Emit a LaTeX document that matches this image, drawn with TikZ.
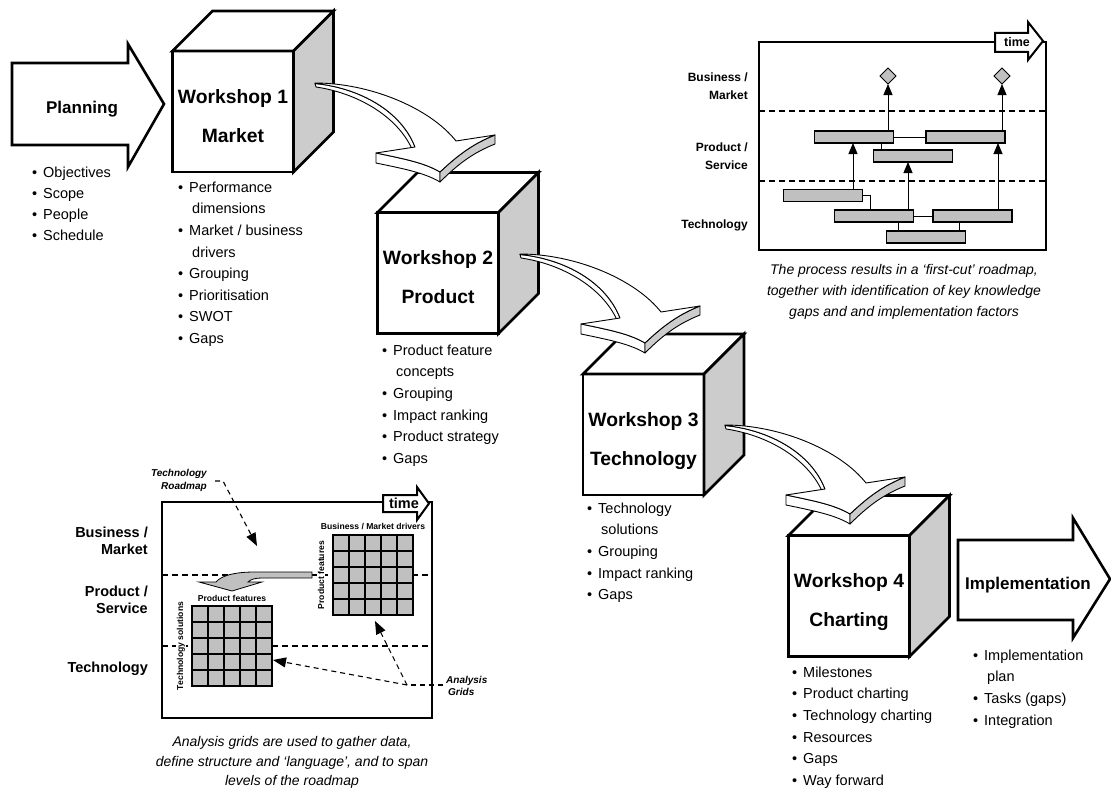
\documentclass[tikz,border=0pt]{standalone}
\usepackage{fontspec}
\setmainfont{Liberation Sans}
\usetikzlibrary{arrows.meta,calc,shapes.geometric}
\definecolor{sidegray}{RGB}{204,204,204}
\definecolor{bargray}{RGB}{192,192,192}
% bullet and hanging indent for the lists
\newcommand\bp{\makebox[11pt][l]{•}}
\newcommand\cp{\hspace*{14pt}}

\tikzset{
  % curved flat 3-D arrow leading from one workshop to the next
  ribbon/.pic={
    \draw[rib, fill=white] (0,0.5) .. controls (45,5) and (86,28) .. (100,64) -- (97,66) .. controls (82,33) and (42,10) .. (1,4) -- cycle;
    \draw[rib, fill=white] (61,70) .. controls (90,76) and (110,80) .. (125,89) -- (125,99) .. controls (110,90) and (90,86) .. (61,80) -- cycle;
    \draw[rib, fill=sidegray] (125,89) .. controls (145,70) and (160,60) .. (180,52) -- (180,61) .. controls (160,69) and (145,79) .. (125,99) -- cycle;
    \draw[rib, fill=white] (0,0) .. controls (55,0) and (115,25) .. (141,58) -- (180,52) .. controls (160,60) and (145,70) .. (125,89) .. controls (110,80) and (90,76) .. (61,70) -- (100,64) .. controls (86,28) and (45,5) .. (0,0.5) -- cycle;
  }
}

\begin{document}
\begin{tikzpicture}[x=1pt,y=-1pt,
  cubeface/.style={draw, line width=2.8pt, fill=white, inner sep=0pt, outer sep=0pt, minimum width=121pt, minimum height=121pt},
  topface/.style={draw, line width=2.8pt, fill=white},
  sideface/.style={draw, line width=2.8pt, fill=sidegray},
  rib/.style={draw, line width=0.9pt, line join=round},
  blockarrow/.style={draw, line width=2.6pt, fill=white},
  wtitle/.style={font=\fontsize{19.3}{23}\selectfont\bfseries, inner sep=0pt},
  arrowtitle/.style={font=\fontsize{17}{20}\selectfont\bfseries, inner sep=0pt},
  bullets/.style={anchor=north west, align=left, inner sep=0pt, font=\fontsize{14.5}{21.6}\selectfont},
  frame/.style={draw, line width=2.4pt},
  lane/.style={line width=1.2pt, dash pattern=on 6pt off 4pt},
  lanelab/.style={align=right, inner sep=0pt, font=\fontsize{12}{18}\selectfont\bfseries},
  biglanelab/.style={align=right, inner sep=0pt, font=\fontsize{14.5}{17.5}\selectfont\bfseries},
  bar/.style={draw, line width=1.1pt, fill=bargray, minimum width=79pt, minimum height=12pt, inner sep=0pt, outer sep=0pt},
  link/.style={line width=1pt},
  uparrow/.style={line width=1pt, -{Triangle[width=9pt,length=11pt]}},
  milestone/.style={diamond, draw, line width=0.9pt, fill=bargray, minimum width=16pt, minimum height=16pt, inner sep=0pt, outer sep=0pt},
  timearrow/.style={draw, line width=2pt, fill=white},
  caption/.style={align=center, inner sep=0pt},
  gridcell/.style={draw, line width=2pt, fill=bargray, minimum width=80pt, minimum height=80pt, inner sep=0pt, outer sep=0pt},
  gridline/.style={line width=2pt},
  gridlab/.style={inner sep=1pt, font=\fontsize{8.6}{10}\selectfont\bfseries},
  annot/.style={inner sep=0pt, font=\fontsize{10}{13}\selectfont\bfseries\itshape},
  pointer/.style={line width=1.1pt, dash pattern=on 5pt off 4pt},
  pointerarrow/.style={pointer, -{Triangle[width=10pt,length=13pt]}},
]
\useasboundingbox (0,0) rectangle (1111,792);

% ---------- first-cut roadmap (top right) ----------
\draw[frame] (759,42) rectangle (1046,250);
\draw[lane] (759,111) -- (1046,111);
\draw[lane] (759,181) -- (1046,181);
\node[lanelab, anchor=east] (rbm) at (748,86) {Business /\\Market};
\node[lanelab, anchor=east] (rps) at (748,156) {Product /\\Service};
\node[lanelab, anchor=base east] (rte) at (748,228) {Technology};

\node[bar] (A) at (854,137) {};
\node[bar] (B) at (965.5,137) {};
\node[bar] (C) at (913,156) {};
\node[bar] (D) at (823,195.5) {};
\node[bar] (E) at (874,216) {};
\node[bar] (F) at (972.5,216) {};
\node[bar] (G) at (926,237) {};
\node[milestone] (m1) at (888,76) {};
\node[milestone] (m2) at (1002,76) {};

\draw[link] (A.east) -- (B.west);
\draw[link] ([xshift=27pt]A.south) -- ([xshift=-32pt]C.north);
\draw[link] (D.east) -| ([xshift=-4pt]E.north);
\draw[link] (E.east) -- (F.west);
\draw[link] ([xshift=24pt]E.south) -- ([xshift=-28pt]G.north);
\draw[link] ([xshift=-13.5pt]F.south) -- ([xshift=33pt]G.north);
\draw[uparrow] ([xshift=30pt]D.north) -- ([xshift=-1pt]A.south);
\draw[uparrow] ([xshift=34pt]E.north) -- ([xshift=-5pt]C.south);
\draw[uparrow] ([xshift=25.5pt]F.north) -- ([xshift=32.5pt]B.south);
\draw[uparrow] ([xshift=34pt]A.north) -- (m1.south);
\draw[uparrow] ([xshift=36.5pt]B.north) -- (m2.south);

\draw[timearrow] (995,33) -- (1028,33) -- (1028,22) -- (1043,41) -- (1028,60) -- (1028,52) -- (995,52) -- cycle;
\node[inner sep=0pt, font=\fontsize{12.5}{14}\selectfont\bfseries] (rtime) at (1017,42) {time};

\node[caption, anchor=north, font=\fontsize{14}{21}\selectfont\itshape] (cap1) at (904,264.5)
  {The process results in a ‘first-cut’ roadmap,\\together with identification of key knowledge\\gaps and and implementation factors};

% ---------- analysis grids (bottom left) ----------
\draw[frame] (162,502) rectangle (432,718);
\draw[lane] (162,575) -- (432,575);
\draw[lane] (162,646) -- (432,646);
\node[biglanelab, anchor=east] (lbm) at (148,541) {Business /\\Market};
\node[biglanelab, anchor=east] (lps) at (148,600) {Product /\\Service};
\node[biglanelab, anchor=base east] (lte) at (148,672) {Technology};

\node[gridcell] (rg) at (373,575) {};
\node[gridcell] (lg) at (232,646) {};
\foreach \g in {rg,lg} {
  \foreach \i in {1,...,4} {
    \draw[gridline] ($(\g.north west)+(\i*16,0)$) -- ($(\g.south west)+(\i*16,0)$);
    \draw[gridline] ($(\g.north west)+(0,\i*16)$) -- ($(\g.north east)+(0,\i*16)$);
  }
}
\node[gridlab] (rgt) at (373,526) {Business / Market drivers};
\node[gridlab, rotate=90, fill=white] (rgl) at (321,575) {Product features};
\node[gridlab] (lgt) at (232,598) {Product features};
\node[gridlab, rotate=90, fill=white] (lgl) at (181,646) {Technology solutions};

% flat arrow carrying the product features down to the next grid
\draw[line width=0.8pt, fill=bargray] (312,572) -- (255,572) .. controls (236,572) and (222,575) .. (216,582)
  -- (199,582) -- (232,591) -- (262,582) -- (248,582) .. controls (251,579) and (256,578) .. (262,578) -- (312,578) -- cycle;

\draw[timearrow] (383,495) -- (417,495) -- (417,487) -- (429,503.5) -- (417,520) -- (417,512) -- (383,512) -- cycle;
\node[inner sep=0pt, font=\fontsize{14.5}{16}\selectfont\bfseries] (ltime) at (404,503.5) {time};

\node[annot, anchor=east, align=right] (trm) at (207,480) {Technology\\Roadmap};
\coordinate (trmbend) at (223,481);
\coordinate (trmtip) at (257,546);
\draw[pointerarrow] ($(trm.east)+(8,1)$) -- (trmbend) -- (trmtip);

\node[annot, anchor=west, align=left, font=\fontsize{10}{12}\selectfont\bfseries\itshape] (agr) at (446,686) {Analysis\\\hspace*{2pt}Grids};
\coordinate (agj) at (407,685);
\coordinate (lgtip) at (273,660);
\coordinate (rgtip) at (375,621);
\draw[pointer] ($(agr.west)+(-3,-1)$) -- (agj);
\draw[pointerarrow] (agj) -- (lgtip);
\draw[pointerarrow] (agj) -- (rgtip);

\node[caption, anchor=north, font=\fontsize{14}{19.5}\selectfont\itshape] (cap2) at (292,736.5)
  {Analysis grids are used to gather data,\\define structure and ‘language’, and to span\\levels of the roadmap};

% ---------- workshop cubes ----------
\foreach \n/\x/\y in {w1/233/111.5, w2/438/273, w3/643.5/434.5, w4/849/596} {
  \node[cubeface] (\n) at (\x,\y) {};
  \draw[topface] (\n.north west) -- ++(40,-40) -- ++(121,0) -- (\n.north east) -- cycle;
  \draw[sideface] (\n.north east) -- ++(40,-40) -- ++(0,121) -- (\n.south east) -- cycle;
}
\node[wtitle, anchor=base] (w1a) at ($(w1.center)+(0,-8.5)$) {Workshop 1};
\node[wtitle, anchor=base] (w1b) at ($(w1.center)+(0,30.5)$) {Market};
\node[wtitle, anchor=base] (w2a) at ($(w2.center)+(0,-8.5)$) {Workshop 2};
\node[wtitle, anchor=base] (w2b) at ($(w2.center)+(0,30.5)$) {Product};
\node[wtitle, anchor=base] (w3a) at ($(w3.center)+(0,-8.5)$) {Workshop 3};
\node[wtitle, anchor=base] (w3b) at ($(w3.center)+(0,30.5)$) {Technology};
\node[wtitle, anchor=base] (w4a) at ($(w4.center)+(0,-8.5)$) {Workshop 4};
\node[wtitle, anchor=base] (w4b) at ($(w4.center)+(0,30.5)$) {Charting};

% ---------- curved arrows between workshops ----------
\pic at ($(w1.north east)+(21.5,32)$) {ribbon};
\pic at ($(w2.north east)+(21.5,41.5)$) {ribbon};
\pic at ($(w3.north east)+(21,51)$) {ribbon};

% ---------- planning and implementation ----------
\draw[blockarrow] (12,63) -- (128,63) -- (128,44) -- (164,104) -- (128,167) -- (128,145) -- (12,145) -- cycle;
\node[arrowtitle, anchor=base] (plan) at (82,113) {Planning};
\draw[blockarrow] (958,540) -- (1073,540) -- (1073,518) -- (1110,579) -- (1073,638) -- (1073,620) -- (958,620) -- cycle;
\node[arrowtitle, anchor=base] (impl) at (1028,589) {Implementation};

% ---------- activity lists ----------
\node[bullets, font=\fontsize{14.5}{21}\selectfont] (l0) at (32,166.6)
  {\bp Objectives\\\bp Scope\\\bp People\\\bp Schedule};
\node[bullets] (l1) at (178,181.6)
  {\bp Performance\\\cp dimensions\\\bp Market / business\\\cp drivers\\\bp Grouping\\\bp Prioritisation\\\bp SWOT\\\bp Gaps};
\node[bullets] (l2) at (382,344.6)
  {\bp Product feature\\\cp concepts\\\bp Grouping\\\bp Impact ranking\\\bp Product strategy\\\bp Gaps};
\node[bullets] (l3) at (587,502.6)
  {\bp Technology\\\cp solutions\\\bp Grouping\\\bp Impact ranking\\\bp Gaps};
\node[bullets] (l4) at (792,666.6)
  {\bp Milestones\\\bp Product charting\\\bp Technology charting\\\bp Resources\\\bp Gaps\\\bp Way forward};
\node[bullets] (l5) at (973,649.6)
  {\bp Implementation\\\cp plan\\\bp Tasks (gaps)\\\bp Integration};

\end{tikzpicture}
\end{document}
